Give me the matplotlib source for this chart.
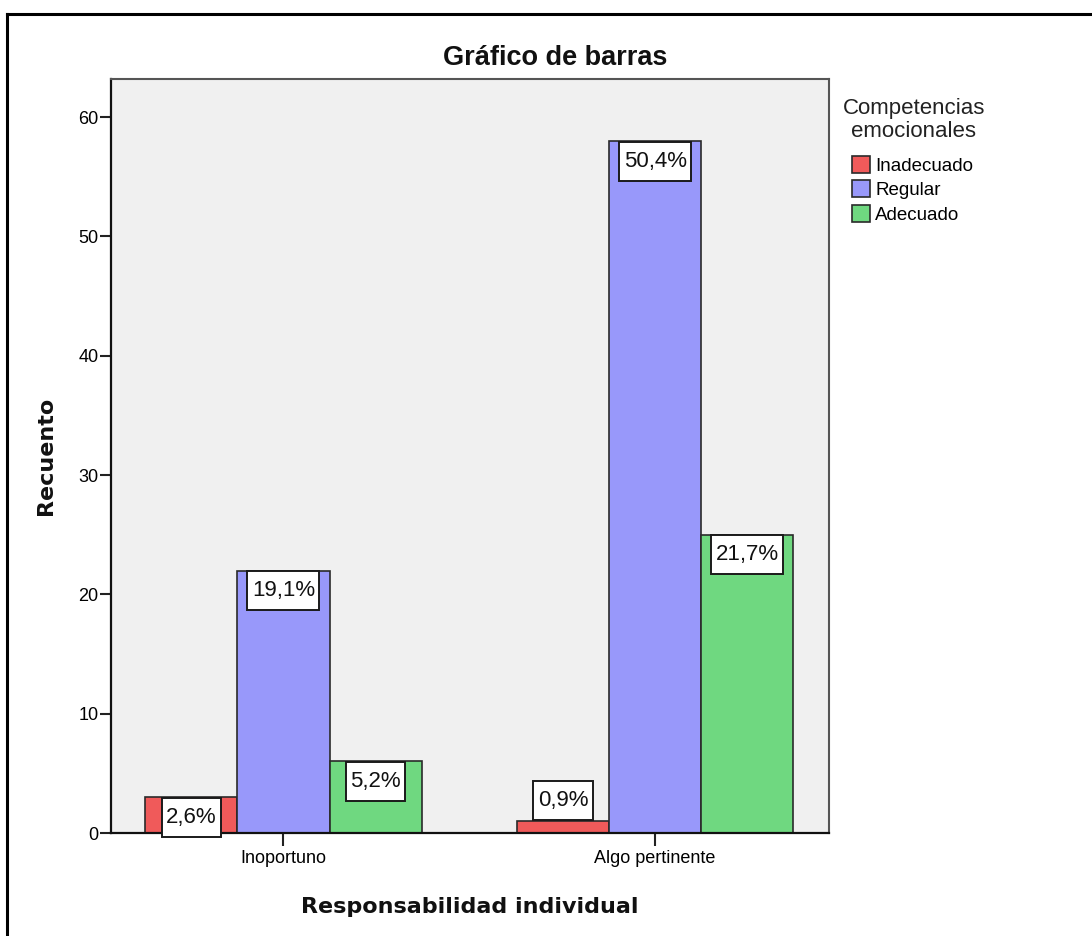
import matplotlib
matplotlib.use("Agg")
import matplotlib.pyplot as plt
from matplotlib.lines import Line2D
from matplotlib.path import Path
import numpy as np

categories = ["Inoportuno", "Algo pertinente"]
series_names = ["Inadecuado", "Regular", "Adecuado"]
inadecuado = [3, 1]
regular = [22, 58]
adecuado = [6, 25]
pct_inadecuado = ["2,6%", "0,9%"]
pct_regular = ["19,1%", "50,4%"]
pct_adecuado = ["5,2%", "21,7%"]
yticks = [0, 10, 20, 30, 40, 50, 60]

colors = ["#f05a5a", "#9898fa", "#6fd880"]

plt.rcParams['font.family'] = ['Liberation Sans', 'DejaVu Sans']

W, H = 1092, 936
fig = plt.figure(figsize=(W / 100, H / 100), dpi=100)
fig.patch.set_facecolor("white")

ax = fig.add_axes([111 / W, 1 - 833 / H, (829 - 111) / W, (833 - 79) / H])
ax.set_facecolor("#f0f0f0")

x = np.arange(len(categories))
bw = 0.248
values = [inadecuado, regular, adecuado]
pcts = [pct_inadecuado, pct_regular, pct_adecuado]
offsets = [-bw, 0, bw]

ax.set_xlim(-0.464, 1.468)
ax.set_ylim(0, 63.2)

handles = []
for vals, off, c, name in zip(values, offsets, colors, series_names):
    b = ax.bar(x + off, vals, width=bw, color=c, edgecolor="#2a2a2a",
               linewidth=1.2, label=name, zorder=2)
    handles.append(b)

PADX, PADY = 0.20, 0.40


def label_box(x0, y0, width, height, mutation_size):
    px = PADX * mutation_size
    py = PADY * mutation_size
    x0, y0 = x0 - px, y0 - py
    x1, y1 = x0 + width + 2 * px, y0 + height + 2 * py
    return Path([(x0, y0), (x1, y0), (x1, y1), (x0, y1), (x0, y0)],
                closed=True)


ppu = (833 - 117) / 60.0
fs_lab = 16
off_pt = PADY * fs_lab + 0.5
for vals, off, labs in zip(values, offsets, pcts):
    for xi, v, t in zip(x, vals, labs):
        inside = v * ppu >= 30
        if inside:
            ax.annotate(t, xy=(xi + off, v), xytext=(0, -off_pt),
                        textcoords="offset points", ha="center", va="top",
                        fontsize=fs_lab, color="#111111", zorder=4,
                        annotation_clip=False,
                        bbox=dict(boxstyle=label_box, fc="white",
                                  ec="#1a1a1a", lw=1.4))
        else:
            ax.annotate(t, xy=(xi + off, v), xytext=(0, off_pt + 0.5),
                        textcoords="offset points", ha="center", va="bottom",
                        fontsize=fs_lab, color="#111111", zorder=4,
                        annotation_clip=False,
                        bbox=dict(boxstyle=label_box, fc="white",
                                  ec="#1a1a1a", lw=1.4))

ax.set_xticks(x)
ax.set_xticklabels(categories, fontsize=13)
ax.set_yticks(yticks)
ax.set_yticklabels([str(t) for t in yticks], fontsize=13)
ax.tick_params(axis="y", length=8, width=1.5, pad=1, color="#222222")
ax.tick_params(axis="x", length=9, width=1.5, pad=3.5, color="#222222")

for s in ["top", "right"]:
    ax.spines[s].set_color("#555555")
    ax.spines[s].set_linewidth(1.5)
for s in ["left", "bottom"]:
    ax.spines[s].set_color("#111111")
    ax.spines[s].set_linewidth(1.6)

# Title and axis labels
fig.text(555 / W, 1 - 65 / H, "Gráfico de barras", ha="center", va="baseline",
         fontsize=19.5, fontweight="bold", color="#111111")
fig.text(470 / W, 1 - 913 / H, "Responsabilidad individual", ha="center",
         va="baseline", fontsize=16, fontweight="bold", family="DejaVu Sans",
         color="#111111")
fig.text(46 / W, 1 - 456 / H, "Recuento", ha="center", va="center",
         rotation=90, fontsize=16, fontweight="bold", family="DejaVu Sans",
         color="#111111")

# Legend
fig.text(914 / W, 1 - 137 / H, "Competencias\nemocionales", ha="center",
         va="baseline", fontsize=16, color="#222222", linespacing=1.15,
         multialignment="center")
leg = fig.legend(handles=handles, labels=series_names, loc="upper left",
                 bbox_to_anchor=(852 / W, 1 - 156 / H), frameon=False,
                 fontsize=13.5, handlelength=0.95, handleheight=1.0,
                 handletextpad=0.3, labelspacing=0.3, borderpad=0,
                 borderaxespad=0)
for h in leg.legend_handles:
    h.set_edgecolor("#2a2a2a")
    h.set_linewidth(1.2)

# Outer frame (left and top edges of a larger screenshot)
fig.add_artist(Line2D([7 / W, 7 / W], [0, 1 - 14 / H], color="black", lw=2.2,
                      transform=fig.transFigure))
fig.add_artist(Line2D([7 / W, 1], [1 - 14 / H, 1 - 14 / H], color="black",
                      lw=2.2, transform=fig.transFigure))

fig.savefig("out.png", dpi=100)
